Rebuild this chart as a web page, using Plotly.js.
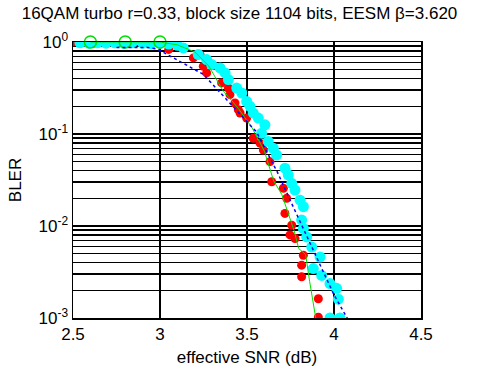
<!DOCTYPE html>
<html>
<head>
<meta charset="utf-8">
<script src="https://cdn.plot.ly/plotly-3.0.1.min.js"></script>
<style>html,body{margin:0;padding:0;background:#fff;}#chart{width:479px;height:369px;}</style>
</head>
<body>
<div id="chart"></div>
<script>
// Cyan scatter points (effective SNR dB, BLER)
var cyanX = [2.54, 2.59, 2.64, 2.69, 2.74, 2.79, 2.84, 2.90, 2.95, 3.00, 3.05, 3.10, 3.134, 3.22, 3.268, 3.297, 3.345, 3.374, 3.393, 3.441, 3.47, 3.498, 3.517, 3.536, 3.565, 3.603, 3.584, 3.622, 3.651, 3.67, 3.718, 3.737, 3.757, 3.776, 3.805, 3.824, 3.814, 3.824, 3.843, 3.872, 3.92, 3.881, 3.929, 3.977, 4.015, 4.025, 3.977, 4.034];
var cyanY = [0.98, 0.97, 0.98, 0.97, 0.98, 0.97, 0.98, 0.97, 0.96, 0.97, 0.95, 0.92, 0.863, 0.73, 0.644, 0.568, 0.523, 0.461, 0.39, 0.316, 0.279, 0.226, 0.2, 0.169, 0.149, 0.126, 0.102, 0.083, 0.07, 0.059, 0.0425, 0.0359, 0.0291, 0.0246, 0.0191, 0.0162, 0.0116, 0.0094, 0.0076, 0.0059, 0.0046, 0.00345, 0.0029, 0.00237, 0.0021, 0.0016, 0.001, 0.001];

// Red scatter points
var redX = [2.50, 2.615, 2.82, 3.00, 3.05, 3.192, 3.23, 3.249, 3.268, 3.354, 3.393, 3.402, 3.431, 3.45, 3.46, 3.498, 3.536, 3.575, 3.594, 3.632, 3.642, 3.709, 3.728, 3.718, 3.757, 3.747, 3.776, 3.824, 3.814, 3.814, 3.91, 3.91];
var redY = [1.0, 0.97, 0.97, 0.95, 0.83, 0.672, 0.73, 0.545, 0.461, 0.359, 0.316, 0.268, 0.217, 0.184, 0.169, 0.149, 0.09, 0.0795, 0.067, 0.05, 0.0303, 0.0257, 0.02, 0.0137, 0.0102, 0.008, 0.0073, 0.0048, 0.00375, 0.0028, 0.00162, 0.00102];

// Green reference curve
var greenX = [2.6, 2.8, 3.0, 3.1, 3.2, 3.28, 3.36, 3.45, 3.53, 3.6, 3.653, 3.70, 3.733, 3.77, 3.797, 3.837, 3.86, 3.878, 3.895];
var greenY = [1, 1, 1, 0.93, 0.78, 0.55, 0.30, 0.19, 0.116, 0.065, 0.031, 0.022, 0.0146, 0.009, 0.0057, 0.0049, 0.0025, 0.0015, 0.001];
// Green circle markers
var greenMarkX = [2.6, 2.8, 3.0];
var greenMarkY = [1, 1, 1];

// Blue dotted reference curve
var blueX = [2.75, 2.93, 2.984, 3.249, 3.555, 3.676, 3.768, 3.866, 3.999, 4.085];
var blueY = [0.87, 0.87, 0.84, 0.445, 0.105, 0.038, 0.0158, 0.0063, 0.0018, 0.00093];

// Axis ticks
var xTicks = [2.5, 3, 3.5, 4, 4.5];
var xTickText = ['2.5', '3', '3.5', '4', '4.5'];
var yTicks = [1, 0.1, 0.01, 0.001];
var yTickText = ['10<sup>0</sup>', '10<sup>-1</sup>', '10<sup>-2</sup>', '10<sup>-3</sup>'];

var minorY = [];
[0.001, 0.01, 0.1].forEach(function (d) { for (var k = 2; k <= 9; k++) minorY.push(k * d); });

var font = 'Liberation Sans, Arial, Helvetica, sans-serif';

var traces = [
  {x: redX, y: redY, mode: 'markers', type: 'scatter', marker: {color: '#ff0000', size: 9, symbol: 'circle'}, hoverinfo: 'none'},
  {x: cyanX, y: cyanY, mode: 'markers', type: 'scatter', marker: {color: '#00ffff', size: 11, symbol: 'circle'}, hoverinfo: 'none'},
  {x: greenX, y: greenY, mode: 'lines', type: 'scatter', line: {color: '#00e000', width: 1}, hoverinfo: 'none'},
  {x: greenMarkX, y: greenMarkY, mode: 'markers', type: 'scatter', cliponaxis: false, marker: {color: '#00e000', size: 12, symbol: 'circle-open', line: {color: '#00e000', width: 1.5}}, hoverinfo: 'none'},
  {x: blueX, y: blueY, mode: 'lines', type: 'scatter', line: {color: '#0000ff', width: 1.5, dash: 'dot'}, hoverinfo: 'none'}
];

var layout = {
  width: 479, height: 369,
  margin: {l: 73, r: 58, t: 42, b: 51},
  paper_bgcolor: '#fff', plot_bgcolor: '#fff',
  showlegend: false,
  font: {family: font, size: 17, color: '#000'},
  title: {text: '16QAM turbo r=0.33, block size 1104 bits, EESM β=3.620', font: {family: font, size: 17, color: '#000'}, xref: 'container', x: 0.5, xanchor: 'center', yref: 'container', y: 0.965, yanchor: 'middle'},
  xaxis: {
    range: [2.5, 4.5], tickmode: 'array', tickvals: xTicks, ticktext: xTickText,
    showgrid: true, gridcolor: '#000', gridwidth: 1.5,
    showline: true, linecolor: '#000', linewidth: 1.5, mirror: true,
    ticks: '', zeroline: false,
    tickfont: {family: font, size: 17, color: '#000'},
    title: {text: 'effective SNR (dB)', font: {family: font, size: 17, color: '#000'}, standoff: 8}
  },
  yaxis: {
    type: 'log', range: [-3, 0], tickmode: 'array', tickvals: yTicks, ticktext: yTickText,
    showgrid: true, gridcolor: '#000', gridwidth: 1.5,
    minor: {tickmode: 'array', tickvals: minorY, showgrid: true, gridcolor: '#000', gridwidth: 1.5, ticks: ''},
    showline: true, linecolor: '#000', linewidth: 1.5, mirror: true,
    ticks: '', zeroline: false,
    tickfont: {family: font, size: 17, color: '#000'},
    title: {text: 'BLER', font: {family: font, size: 17, color: '#000'}, standoff: 12}
  }
};

Plotly.newPlot('chart', traces, layout, {displayModeBar: false, staticPlot: true});
</script>
</body>
</html>
